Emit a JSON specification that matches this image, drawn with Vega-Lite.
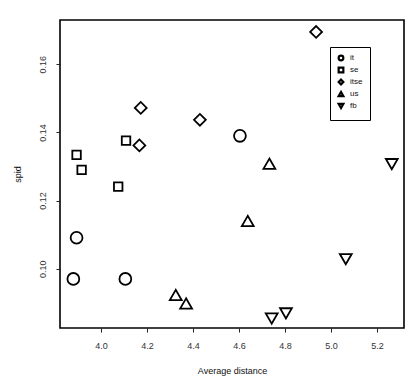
{
  "$schema": "https://vega.github.io/schema/vega-lite/v6.json",
  "width": 344,
  "height": 308,
  "autosize": {"type": "none"},
  "padding": {"left": 60, "top": 20, "right": 9, "bottom": 60},
  "background": "white",
  "config": {
    "font": "Liberation Sans",
    "view": {"stroke": "black", "strokeWidth": 1.6},
    "axis": {"domain": false, "grid": false, "tickColor": "#222", "tickSize": 4, "tickWidth": 1, "labelColor": "#333", "labelFontSize": 9, "titleFontSize": 9, "titleFontWeight": "normal", "titleColor": "#111"}
  },
  "data": {"values": [
    {"group": "it", "dist": 3.880, "spid": 0.0970},
    {"group": "it", "dist": 3.894, "spid": 0.1091},
    {"group": "it", "dist": 4.106, "spid": 0.0970},
    {"group": "it", "dist": 4.604, "spid": 0.1390},
    {"group": "se", "dist": 3.894, "spid": 0.1334},
    {"group": "se", "dist": 3.916, "spid": 0.1290},
    {"group": "se", "dist": 4.075, "spid": 0.1241},
    {"group": "se", "dist": 4.109, "spid": 0.1376},
    {"group": "itse", "dist": 4.173, "spid": 0.1472},
    {"group": "itse", "dist": 4.167, "spid": 0.1362},
    {"group": "itse", "dist": 4.430, "spid": 0.1437},
    {"group": "itse", "dist": 4.935, "spid": 0.1695},
    {"group": "us", "dist": 4.325, "spid": 0.0923},
    {"group": "us", "dist": 4.370, "spid": 0.0898},
    {"group": "us", "dist": 4.732, "spid": 0.1308},
    {"group": "us", "dist": 4.638, "spid": 0.1140},
    {"group": "fb", "dist": 4.742, "spid": 0.0854},
    {"group": "fb", "dist": 4.804, "spid": 0.0869},
    {"group": "fb", "dist": 5.064, "spid": 0.1028},
    {"group": "fb", "dist": 5.264, "spid": 0.1307}
  ]},
  "encoding": {
    "x": {"field": "dist", "type": "quantitative", "title": "Average distance",
      "scale": {"domain": [3.822, 5.317], "zero": false, "nice": false},
      "axis": {"values": [4.0, 4.2, 4.4, 4.6, 4.8, 5.0, 5.2], "format": ".1f", "labelPadding": 9, "titleY": 38}},
    "y": {"field": "spid", "type": "quantitative", "title": "spid",
      "scale": {"domain": [0.0826, 0.173], "zero": false, "nice": false},
      "axis": {"values": [0.10, 0.12, 0.14, 0.16], "format": ".2f", "labelAngle": -90, "labelAlign": "center", "labelBaseline": "bottom", "labelPadding": 9, "titleX": -38}},
    "shape": {"field": "group", "type": "nominal", "title": null,
      "scale": {"domain": ["it", "se", "itse", "us", "fb"], "range": ["circle", "square", "diamond", "triangle-up", "triangle-down"]},
      "legend": {"orient": "none", "legendX": 270, "legendY": 27, "strokeColor": "black", "padding": 7, "fillColor": "white", "labelFontSize": 8, "labelColor": "#111", "symbolSize": 22, "symbolStrokeWidth": 2.2, "symbolStrokeColor": "black", "symbolFillColor": "white", "rowPadding": -2, "labelOffset": 5,
        "encode": {"legend": {"update": {"strokeWidth": {"value": 1.6}}}}}}
  },
  "layer": [
    {
      "transform": [{"filter": "datum.group != 'se'"}],
      "mark": {"type": "point", "filled": false, "stroke": "black", "strokeWidth": 1.8, "opacity": 1, "size": 140}
    },
    {
      "transform": [{"filter": "datum.group == 'se'"}],
      "mark": {"type": "point", "filled": false, "stroke": "black", "strokeWidth": 1.8, "opacity": 1, "size": 72}
    }
  ]
}
